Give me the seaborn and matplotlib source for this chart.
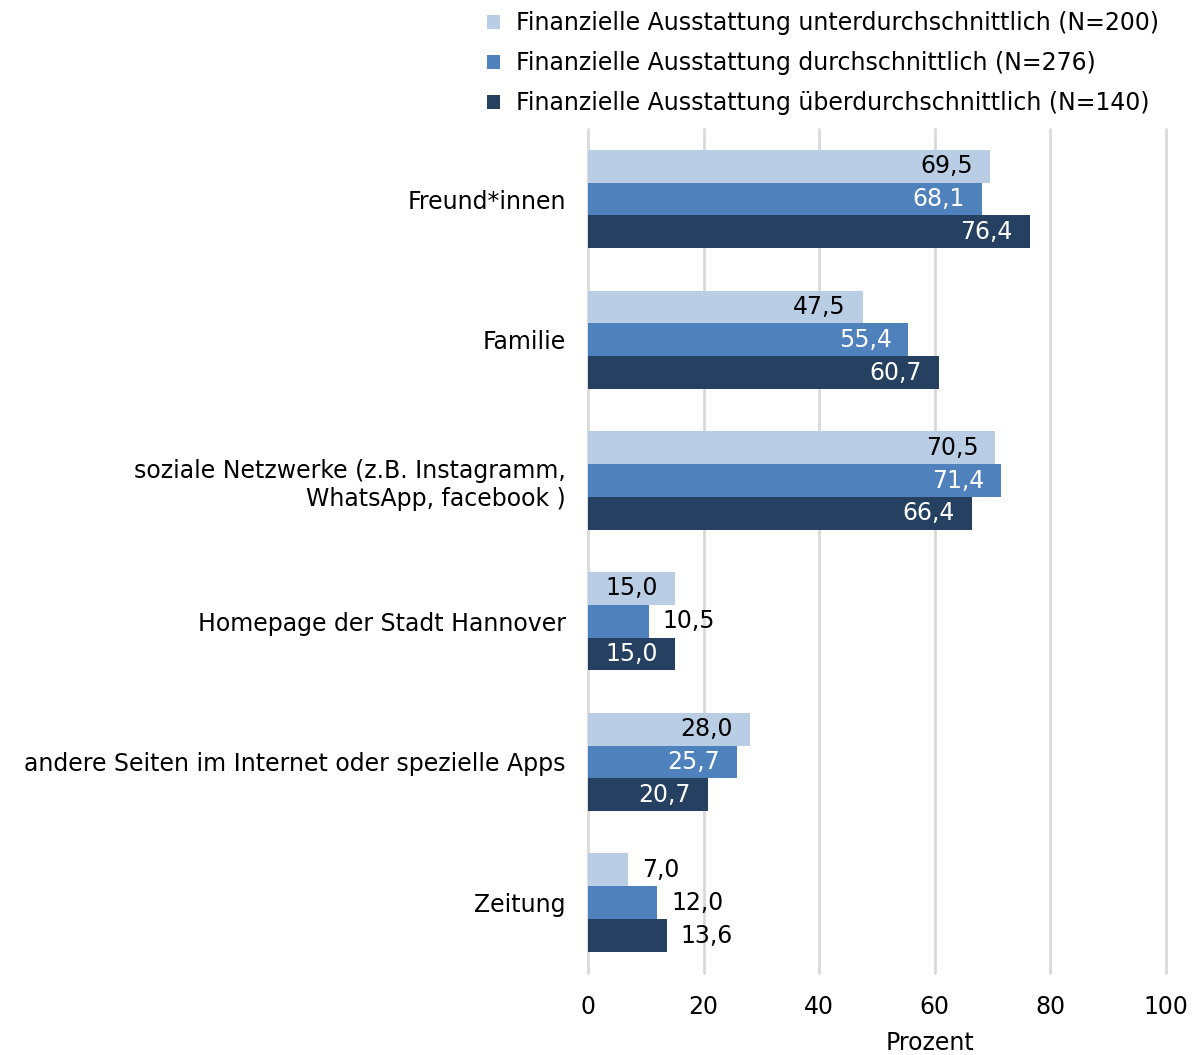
import matplotlib
matplotlib.use("Agg")
import matplotlib.pyplot as plt
from matplotlib.patches import Patch
import seaborn as sns
import pandas as pd

categories = [
    "Freund*innen",
    "Familie",
    "soziale Netzwerke (z.B. Instagramm,\nWhatsApp, facebook )",
    "Homepage der Stadt Hannover",
    "andere Seiten im Internet oder spezielle Apps",
    "Zeitung",
]
series = [
    "Finanzielle Ausstattung unterdurchschnittlich (N=200)",
    "Finanzielle Ausstattung durchschnittlich (N=276)",
    "Finanzielle Ausstattung überdurchschnittlich (N=140)",
]
unter = [69.5, 47.5, 70.5, 15.0, 28.0, 7.0]
durch = [68.1, 55.4, 71.4, 10.5, 25.7, 12.0]
ueber = [76.4, 60.7, 66.4, 15.0, 20.7, 13.6]
x_ticks = [0, 20, 40, 60, 80, 100]

colors = ["#b9cde5", "#4f81bd", "#254061"]
label_colors = ["black", "white", "white"]

rows = []
for s, vals in zip(series, [unter, durch, ueber]):
    for c, v in zip(categories, vals):
        rows.append({"Kategorie": c, "Gruppe": s, "Prozent": v})
df = pd.DataFrame(rows)

sns.set_theme(style="white")
plt.rcParams["font.family"] = ["DejaVu Sans"]
plt.rcParams["text.color"] = "black"
plt.rcParams["xtick.color"] = "black"
plt.rcParams["ytick.color"] = "black"
plt.rcParams["axes.labelcolor"] = "black"
FS = 17

fig = plt.figure(figsize=(11.97, 10.55), dpi=100)
ax = fig.add_axes([0.4912, 0.0777, 0.9741 - 0.4912, 0.878 - 0.0777])

sns.barplot(
    data=df, y="Kategorie", x="Prozent", hue="Gruppe",
    order=categories, hue_order=series, palette=colors,
    orient="h", width=0.7, saturation=1, errorbar=None,
    edgecolor="none", legend=False, ax=ax,
)

ax.set_xlim(0, 100)
ax.set_xticks(x_ticks)
ax.set_xticklabels([str(t) for t in x_ticks], fontsize=FS)
ax.tick_params(axis="x", length=0, pad=16)
ax.tick_params(axis="y", length=0, pad=16, labelsize=FS)
for lab in ax.get_yticklabels():
    lab.set_horizontalalignment("right")
    lab.set_multialignment("right")
ax.set_ylabel("")
ax.set_xlabel("Prozent", fontsize=FS)
ax.xaxis.set_label_coords(0.592, -0.069)

ax.grid(axis="x", color="#d9d9d9", linewidth=2)
ax.set_axisbelow(True)
for gl in ax.xaxis.get_gridlines():
    gl.set_clip_on(False)
for sp in ax.spines.values():
    sp.set_visible(False)

for i, cont in enumerate(ax.containers):
    for bar in cont:
        v = bar.get_width()
        yc = bar.get_y() + bar.get_height() / 2
        txt = f"{v:.1f}".replace(".", ",")
        if v >= 14:
            ax.annotate(txt, (v, yc), xytext=(-12, 0), textcoords="offset points",
                        ha="right", va="center", fontsize=FS, color=label_colors[i])
        else:
            ax.annotate(txt, (v, yc), xytext=(10, 0), textcoords="offset points",
                        ha="left", va="center", fontsize=FS, color="black")

handles = [Patch(facecolor=c, edgecolor="none") for c in colors]
fig.legend(handles, series, loc="upper left", bbox_to_anchor=(0.4069, 0.9895),
           frameon=False, fontsize=FS, handlelength=0.55, handleheight=0.55,
           handletextpad=0.68, labelspacing=0.68, borderpad=0, borderaxespad=0)

fig.savefig("out.png", dpi=100)
